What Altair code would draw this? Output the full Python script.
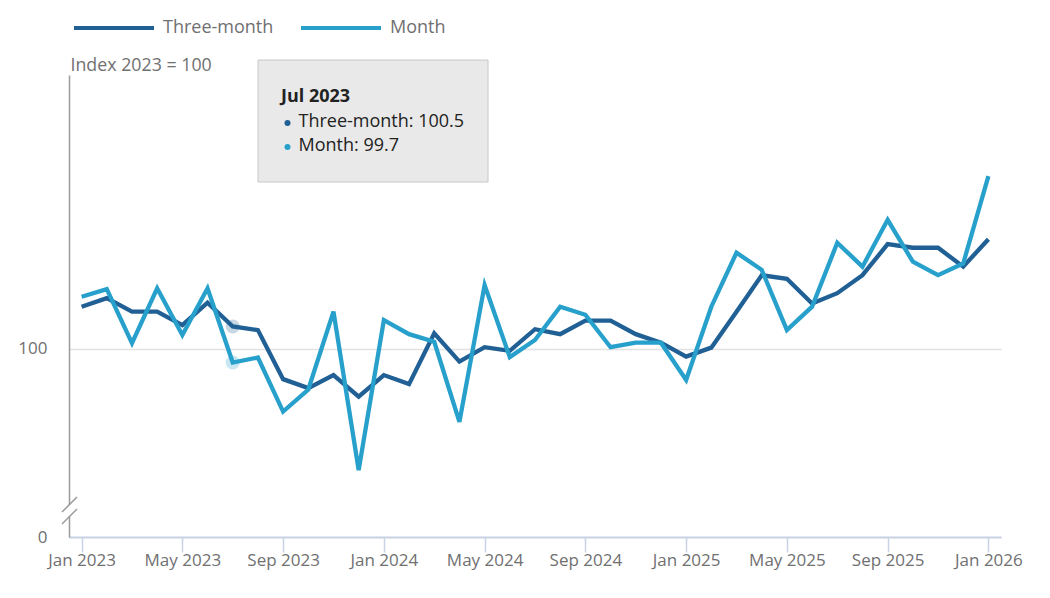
import altair as alt
import pandas as pd

months = [f"{m} {y}" for y in (2023, 2024, 2025) for m in
          ["Jan", "Feb", "Mar", "Apr", "May", "Jun", "Jul", "Aug", "Sep", "Oct", "Nov", "Dec"]] + ["Jan 2026"]
tick_labels = ["Jan 2023", "May 2023", "Sep 2023", "Jan 2024", "May 2024", "Sep 2024",
               "Jan 2025", "May 2025", "Sep 2025", "Jan 2026"]

three_month = [100.94, 101.13, 100.83, 100.83, 100.53, 101.03, 100.5, 100.42, 99.33, 99.13,
               99.42, 98.94, 99.42, 99.22, 100.35, 99.72, 100.04, 99.96, 100.44, 100.33,
               100.63, 100.63, 100.33, 100.14, 99.83, 100.03, 100.83, 101.64, 101.56, 101.01,
               101.24, 101.64, 102.33, 102.25, 102.25, 101.83, 102.44]
month = [101.16, 101.33, 100.13, 101.35, 100.31, 101.35, 99.7, 99.81, 98.61, 99.1,
         100.83, 97.31, 100.64, 100.33, 100.16, 98.38, 101.42, 99.82, 100.2, 100.94,
         100.76, 100.04, 100.14, 100.14, 99.31, 100.94, 102.14, 101.76, 100.42, 100.94,
         102.36, 101.83, 102.87, 101.94, 101.64, 101.9, 103.84]

series_names = ["Three-month", "Month"]
series_colors = ["#206095", "#27a0cc"]
hover_month = "Jul 2023"

df = pd.DataFrame({
    "month": months * 2,
    "value": three_month + month,
    "series": [series_names[0]] * len(months) + [series_names[1]] * len(months),
})

Y_MIN, Y_MAX = 95.822, 106.089
FONT = "Open Sans"
GREY = "#707071"

x_enc = alt.X("month:N", sort=months, title=None,
              scale=alt.Scale(type="point", padding=0.5),
              axis=alt.Axis(values=tick_labels, labelAngle=0, labelFont=FONT, labelFontSize=17,
                            labelColor=GREY, labelPadding=0, tickSize=15, tickColor="#c9d3e6",
                            tickWidth=1.5, domainColor="#c9d3e6", domainWidth=2, grid=False))
y_enc = alt.Y("value:Q", title="Index 2023 = 100",
              scale=alt.Scale(domain=[Y_MIN, Y_MAX], nice=False, zero=False),
              axis=alt.Axis(values=[Y_MIN, 100], labelExpr="datum.value < 99 ? '0' : '100'",
                            labelFont=FONT, labelFontSize=17, labelColor=GREY, labelPadding=22,
                            ticks=False, domainColor="#9a9a9a", domainWidth=1.5,
                            grid=True, gridColor="#e2e2e2", gridWidth=1.5,
                            titleAngle=0, titleAlign="left", titleBaseline="middle",
                            titleX=1, titleY=-10, titleFont=FONT, titleFontSize=17.8,
                            titleFontWeight="normal", titleColor=GREY))
color_enc = alt.Color("series:N", sort=series_names,
                      scale=alt.Scale(domain=series_names, range=series_colors),
                      legend=alt.Legend(title=None, orient="none", direction="horizontal",
                                        legendX=3, legendY=-89, padding=0, symbolType="stroke",
                                        symbolSize=6400, symbolStrokeWidth=4, symbolOpacity=1,
                                        labelFont=FONT, labelFontSize=18, labelColor=GREY,
                                        labelOffset=7, columnPadding=19))

hl_layers = [
    alt.Chart(df).transform_filter(
        (alt.datum.month == hover_month) & (alt.datum.series == name)
    ).mark_circle(size=200, opacity=0.25, color=col).encode(x=x_enc, y=y_enc)
    for name, col in zip(series_names, series_colors)
]

lines = alt.Chart(df).mark_line(strokeWidth=4.3, strokeJoin="miter").encode(
    x=x_enc, y=y_enc, color=color_enc)

one = pd.DataFrame({"k": [0]})
tip_box = alt.Chart(one).mark_rect(fill="#e9e9e9", stroke="#c8c8c8", strokeWidth=1).encode(
    x=alt.value(189), x2=alt.value(419), y=alt.value(-15), y2=alt.value(107))

i = months.index(hover_month)
tip_title = alt.Chart(one).mark_text(align="left", baseline="middle", font=FONT, fontSize=18,
                                     fontWeight="bold", color="#222222").encode(
    x=alt.value(212), y=alt.value(22), text=alt.value(hover_month))
tip_rows = []
for j, (name, vals, col) in enumerate(zip(series_names, [three_month, month], series_colors)):
    yy = 46.5 + 24 * j
    tip_rows.append(alt.Chart(one).mark_circle(size=36, opacity=1, color=col).encode(
        x=alt.value(218.5), y=alt.value(yy + 1.5)))
    tip_rows.append(alt.Chart(one).mark_text(align="left", baseline="middle", font=FONT,
                                             fontSize=18, color="#222222").encode(
        x=alt.value(229.5), y=alt.value(yy), text=alt.value(f"{name}: {vals[i]}")))

# axis break marker
gap = alt.Chart(one).mark_rect(fill="white").encode(
    x=alt.value(-3), x2=alt.value(3), y=alt.value(430), y2=alt.value(441))
slash1 = alt.Chart(one).mark_rule(color="#9a9a9a", strokeWidth=1.5).encode(
    x=alt.value(-7), x2=alt.value(8), y=alt.value(437), y2=alt.value(422))
slash2 = alt.Chart(one).mark_rule(color="#9a9a9a", strokeWidth=1.5).encode(
    x=alt.value(-7), x2=alt.value(8), y=alt.value(449), y2=alt.value(434))

chart = alt.layer(*hl_layers, lines, tip_box, tip_title, *tip_rows, gap, slash1, slash2).properties(
    width=932, height=462,
    autosize=alt.AutoSizeParams(type="none"),
    padding={"left": 61, "top": 67, "right": 40, "bottom": 40},
).configure_view(stroke=None)

chart.save("out.html", embed_options={"renderer": "svg", "actions": False})
